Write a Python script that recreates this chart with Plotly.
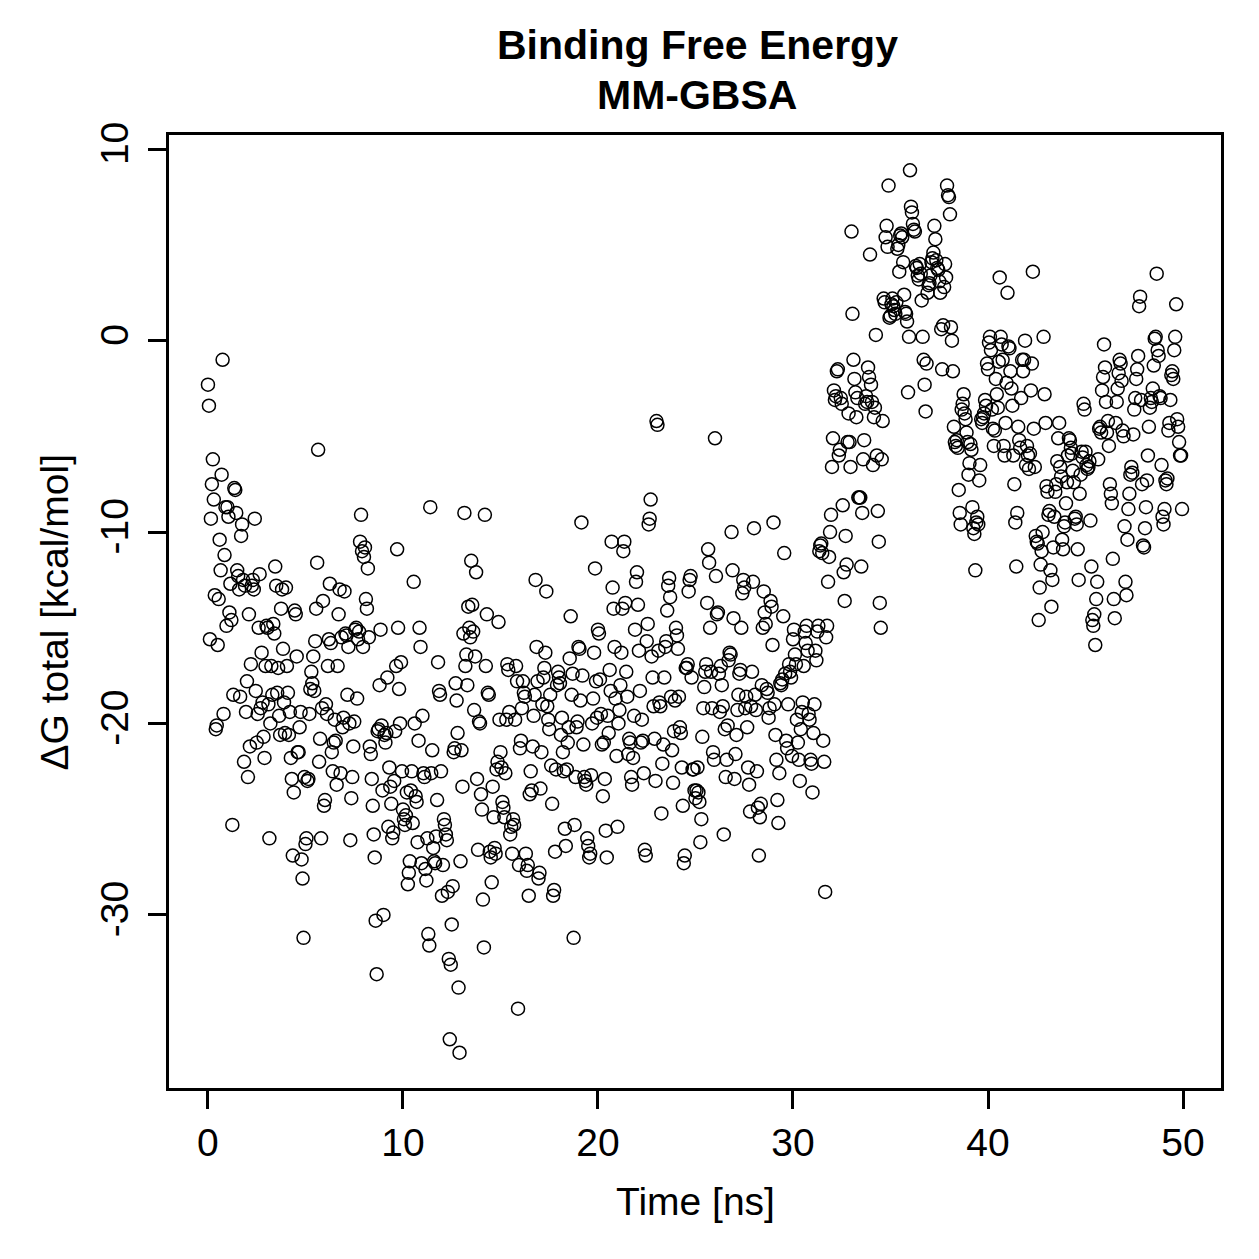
import numpy as np
import plotly.graph_objects as go

# Binding free energy (MM-GBSA), dG total in kcal/mol
# each segment covers 5 ns (one line per ns)
dg_00_05 = [
    -2.3, -3.4, -15.6, -9.3, -7.5, -6.2, -8.3, -13.3, -20.3, -20.1, -15.9, -13.5, -10.4, -12.0, -7.0, -1.0, -19.5, -11.2, -8.7, -14.9,
    -8.7, -9.2, -14.2, -12.7, -14.6, -25.3, -18.5, -7.7, -7.8, -9.0, -12.0, -12.3, -13.0, -18.6, -10.2, -9.6, -12.5, -22.0, -12.8, -19.4,
    -17.8, -22.8, -14.3, -21.2, -16.9, -12.8, -12.5, -13.0, -9.3, -18.3, -21.0, -19.5, -15.0, -12.2, -19.2, -16.3, -18.9, -20.7, -21.8, -17.0,
    -14.9, -15.0, -19.0, -26.0, -20.0, -17.0, -18.5, -14.8, -15.3, -11.8, -12.8, -18.4, -17.1, -19.6, -20.6, -14.0, -13.0, -16.1, -18.9, -20.5,
    -12.9, -17.0, -18.4, -20.6, -19.4, -21.8, -22.9, -26.9, -23.6, -14.1, -14.3, -16.5, -21.5, -21.5, -20.2, -19.4, -27.1, -28.1, -31.2, -22.8,
]
dg_05_10 = [
    -26.3, -26.0, -23.0, -22.9, -19.5, -18.2, -17.3, -17.9, -16.5, -18.3, -15.7, -14.0, -11.6, -5.7, -22.0, -20.8, -26.0, -19.2, -13.6, -24.3,
    -24.0, -19.0, -19.5, -17.0, -15.6, -12.7, -15.8, -21.5, -22.5, -21.0, -19.8, -20.9, -23.2, -17.0, -14.3, -13.0, -22.6, -15.5, -20.2, -19.7,
    -13.1, -15.3, -15.4, -18.5, -16.0, -20.0, -26.1, -23.9, -22.8, -21.2, -19.9, -15.1, -15.0, -18.7, -15.6, -15.2, -10.5, -9.1, -11.0, -16.0,
    -11.3, -10.8, -13.5, -14.0, -11.9, -15.5, -21.2, -21.6, -22.9, -24.3, -25.8, -27.0, -30.3, -33.1, -20.4, -20.3, -18.0, -15.1, -20.1, -23.5,
    -30.0, -20.6, -21.0, -20.5, -17.6, -25.4, -22.3, -23.3, -24.2, -26.0, -25.7, -23.0, -20.4, -17.0, -10.9, -15.0, -18.2, -20.0, -16.8, -22.5,
]
dg_10_15 = [
    -24.5, -25.0, -25.3, -24.8, -23.6, -28.4, -27.8, -27.2, -23.5, -22.5, -25.2, -12.6, -20.0, -23.8, -24.1, -26.2, -20.9, -15.0, -16.0, -27.3,
    -19.6, -22.6, -22.8, -27.6, -28.2, -26.0, -31.0, -31.6, -8.7, -22.6, -21.4, -26.5, -27.2, -27.3, -25.9, -24.0, -16.8, -18.3, -18.5, -22.5,
    -29.0, -27.4, -25.0, -25.3, -25.8, -26.1, -28.8, -32.3, -36.5, -32.6, -30.5, -28.5, -21.5, -21.3, -17.9, -18.8, -20.5, -33.8, -37.2, -27.2,
    -21.4, -23.3, -15.3, -9.0, -17.0, -16.4, -18.0, -13.9, -15.0, -15.5, -11.5, -13.8, -15.2, -19.3, -16.5, -12.1, -22.9, -26.6, -19.9, -20.0,
    -23.7, -24.5, -29.2, -31.7, -9.1, -17.0, -14.3, -18.4, -18.5, -26.7, -27.0, -28.3, -23.3, -24.9, -26.5, -26.8, -22.4, -22.0, -14.7, -19.8,
]
dg_15_20 = [
    -21.5, -22.3, -24.1, -24.4, -24.9, -22.6, -19.8, -16.9, -17.2, -19.4, -25.8, -25.4, -26.8, -25.0, -25.3, -19.8, -17.0, -17.8, -34.9, -27.4,
    -21.3, -20.9, -19.2, -17.8, -18.4, -18.6, -26.8, -27.7, -27.4, -29.0, -23.7, -22.5, -23.5, -21.2, -19.6, -18.5, -12.5, -16.0, -17.8, -28.1,
    -27.8, -23.4, -21.5, -19.0, -17.6, -17.1, -16.3, -13.1, -19.1, -19.8, -20.3, -18.5, -22.2, -24.2, -29.0, -28.7, -26.7, -22.4, -18.0, -17.3,
    -17.6, -17.9, -20.6, -19.7, -21.5, -22.5, -25.5, -26.4, -22.4, -21.0, -20.2, -16.6, -14.4, -18.5, -17.4, -31.2, -25.3, -22.8, -20.2, -19.9,
    -16.0, -16.1, -18.8, -9.5, -17.5, -21.1, -22.8, -23.0, -23.2, -26.0, -26.4, -27.0, -26.8, -22.7, -20.0, -18.7, -16.3, -11.9, -17.8, -19.7,
]
dg_20_25 = [
    -15.1, -15.3, -17.7, -19.5, -21.1, -23.8, -21.0, -22.9, -25.6, -27.0, -19.6, -20.5, -17.2, -18.3, -10.5, -12.9, -14.0, -16.0, -18.7, -21.7,
    -25.4, -20.0, -19.3, -18.0, -16.3, -14.0, -11.0, -10.5, -13.7, -17.3, -18.6, -21.6, -20.8, -21.0, -22.8, -23.2, -21.8, -19.6, -15.1, -12.6,
    -12.1, -13.8, -16.2, -18.3, -21.0, -19.8, -20.9, -22.6, -26.6, -26.9, -15.7, -14.8, -9.6, -9.3, -8.3, -16.5, -17.6, -19.1, -20.8, -23.0,
    -4.2, -4.4, -16.2, -18.9, -19.1, -24.7, -22.1, -21.1, -17.6, -16.0, -15.7, -14.1, -12.8, -12.4, -13.4, -18.6, -21.4, -23.1, -20.4, -18.8,
    -15.0, -15.4, -16.1, -18.6, -20.2, -20.5, -22.3, -24.3, -27.3, -26.9, -17.1, -17.1, -16.9, -13.1, -12.5, -12.3, -17.6, -22.4, -22.4, -23.5,
]
dg_25_30 = [
    -23.9, -23.5, -22.3, -23.6, -24.1, -26.2, -25.0, -20.7, -19.2, -18.1, -17.3, -16.9, -13.7, -10.9, -11.6, -15.0, -17.3, -19.2, -21.5, -21.9,
    -5.1, -12.3, -14.3, -14.2, -17.4, -19.4, -17.0, -18.0, -19.1, -25.8, -20.3, -22.8, -21.9, -20.1, -16.7, -16.3, -16.4, -10.0, -12.0, -14.5,
    -22.9, -21.6, -20.6, -19.3, -18.5, -17.4, -17.2, -15.0, -13.2, -12.5, -12.9, -19.2, -18.6, -20.2, -22.3, -23.2, -24.6, -19.1, -17.3, -12.6,
    -9.8, -18.5, -19.3, -22.5, -24.4, -26.9, -24.9, -24.2, -18.0, -15.0, -13.1, -14.2, -14.8, -18.2, -18.4, -19.7, -19.2, -13.6, -13.9, -15.9,
    -9.5, -19.0, -20.6, -21.9, -24.0, -25.2, -22.6, -17.9, -18.0, -17.7, -14.4, -11.1, -17.4, -20.9, -21.3, -19.0, -16.9, -17.3, -17.6, -21.7,
]
dg_30_35 = [
    -15.6, -15.1, -16.4, -16.9, -19.8, -21.0, -21.9, -23.0, -20.3, -19.4, -18.9, -17.0, -15.2, -15.8, -14.9, -16.2, -19.5, -19.8, -21.9, -22.1,
    -23.6, -20.5, -19.0, -16.2, -16.7, -15.2, -14.9, -11.0, -10.7, -10.6, -11.1, -20.9, -22.0, -28.8, -15.5, -14.9, -12.6, -11.3, -10.0, -9.1,
    -6.6, -5.1, -2.6, -3.1, -2.9, -1.6, -1.5, -6.0, -5.7, -3.0, -3.3, -8.6, -12.1, -13.6, -10.2, -11.7, -5.3, -3.8, -5.3, -6.6,
    5.7, 1.4, -1.0, -2.0, -2.7, -4.0, -3.0, -8.2, -8.2, -8.2, -11.8, -9.0, -6.2, -5.2, -3.3, -2.9, -3.2, -1.4, -1.9, 4.5,
    -2.3, -3.2, -6.5, -4.0, -3.5, 0.3, -6.0, -8.9, -10.5, -13.7, -15.0, -6.2, -4.2, 2.2, 2.0, 5.4, 6.0, 4.9, 8.1, 1.2,
]
dg_35_40 = [
    1.3, 1.9, 2.2, 1.8, 1.6, 1.4, 2.0, 4.8, 5.0, 3.6, 5.5, 5.6, 5.4, 4.1, 2.4, 1.5, 1.4, 1.0, -2.7, 0.2,
    8.9, 7.0, 6.7, 6.1, 5.8, 5.7, 3.9, 3.8, 3.4, 3.2, 4.0, 3.5, 2.1, 0.2, -1.0, -2.3, -3.7, -1.2, 2.5, 2.9,
    3.0, 3.4, 4.1, 4.3, 4.6, 6.0, 5.3, 4.2, 3.8, 3.7, 3.1, 2.5, 0.6, -1.5, 0.8, 2.8, 4.0, 3.3, 8.1, 7.6,
    7.5, 6.6, 0.7, 0.0, -1.6, -4.5, -5.3, -5.5, -5.2, -5.6, -7.8, -9.0, -9.6, -3.6, -3.3, -2.8, -3.8, -4.1, -4.8, -5.3,
    -7.0, -6.4, -5.4, -5.7, -8.7, -9.8, -10.1, -12.0, -9.5, -9.2, -9.6, -7.3, -6.5, -4.1, -4.3, -4.0, -3.8, -3.1, -3.4, -1.2,
]
dg_40_45 = [
    -1.5, -0.1, 0.2, -0.5, -3.6, -4.6, -5.5, -4.7, -2.0, -2.8, -3.5, -1.1, 3.3, 0.2, -0.2, -1.0, -5.5, -6.0, -4.3, -2.2,
    2.5, -0.3, -0.4, -1.6, -2.5, -3.4, -6.0, -7.5, -9.5, -11.8, -9.0, -4.5, -5.2, -5.6, -3.0, -1.0, -1.6, -1.0, 0.0, -6.5,
    -5.5, -6.0, -6.7, -5.9, -2.6, -1.2, 3.6, -4.6, -6.6, -10.2, -10.5, -10.6, -14.6, -12.9, -11.7, -11.0, -10.0, 0.2, -2.8, -4.3,
    -7.6, -7.9, -9.1, -8.9, -12.0, -13.9, -12.5, -10.8, -9.2, -7.9, -7.5, -6.3, -5.1, -4.3, -6.6, -7.1, -10.4, -10.9, -9.7, -9.5,
    -8.5, -7.4, -6.0, -5.1, -5.2, -5.6, -5.9, -6.8, -7.4, -9.3, -9.2, -9.6, -10.9, -12.5, -8.0, -7.0, -5.8, -6.1, -3.3, -3.6,
]
dg_45_50 = [
    -5.8, -6.5, -6.7, -6.6, -6.3, -9.4, -11.8, -14.6, -14.9, -14.3, -15.9, -13.5, -12.6, -6.2, -4.6, -4.5, -4.8, -2.6, -1.9, -0.2,
    -1.4, -3.2, -4.8, -4.2, -5.5, -7.5, -8.0, -8.5, -11.4, -13.5, -14.5, -4.3, -3.2, -2.5, -1.7, -1.0, -1.2, -2.1, -4.7, -5.0,
    -9.7, -12.6, -13.3, -10.4, -8.8, -8.0, -7.0, -6.6, -6.9, -4.9, -3.6, -3.0, -2.0, -1.5, -0.8, 1.8, 2.3, -3.1, -7.5, -10.7,
    -10.8, -9.8, -8.7, -7.3, -6.0, -4.5, -3.5, -3.0, -3.2, -2.5, -1.3, 0.1, 0.2, 3.5, -0.5, -0.8, -2.9, -3.0, -6.5, -9.2,
    -9.6, -8.8, -7.3, -7.5, -7.2, -4.7, -4.3, -3.1, -1.8, -1.6, -2.0, -0.5, 0.2, 1.9, -4.1, -4.5, -5.3, -6.0, -6.0, -8.8,
]

segments = [dg_00_05, dg_05_10, dg_10_15, dg_15_20, dg_20_25,
            dg_25_30, dg_30_35, dg_35_40, dg_40_45, dg_45_50]
segment_start_ns = [0, 5, 10, 15, 20, 25, 30, 35, 40, 45]
segment_len_ns = 5.0

x_ticks = [0, 10, 20, 30, 40, 50]
x_tick_labels = ["0", "10", "20", "30", "40", "50"]
y_ticks = [-30, -20, -10, 0, 10]
y_tick_labels = ["-30", "-20", "-10", "0", "10"]

time_ns = []
dg_total = []
for start, seg in zip(segment_start_ns, segments):
    step = segment_len_ns / len(seg)
    for k, v in enumerate(seg):
        time_ns.append(start + k * step)
        dg_total.append(v)

# R-style 4% axis extension
def r_range(vals):
    lo, hi = min(vals), max(vals)
    d = (hi - lo) * 0.04
    return [lo - d, hi + d]

FONT = "Liberation Sans, Arial, Helvetica, sans-serif"

fig = go.Figure()
fig.add_trace(go.Scatter(
    x=time_ns, y=dg_total, mode="markers",
    marker=dict(symbol="circle-open", size=13, color="black",
                line=dict(color="black", width=1.5)),
    showlegend=False, hoverinfo="x+y",
))

axis_common = dict(
    showgrid=False, zeroline=False, showline=True, mirror=True,
    linecolor="black", linewidth=3, ticks="outside", ticklen=18,
    tickwidth=3, tickcolor="black",
    tickfont=dict(family=FONT, size=39, color="black"),
)

fig.update_layout(
    width=1259, height=1259,
    margin=dict(l=169, r=38, t=135, b=171),
    paper_bgcolor="white", plot_bgcolor="white",
    xaxis=dict(range=r_range(time_ns), tickvals=x_ticks, ticktext=x_tick_labels,
               ticklabelstandoff=0, **axis_common),
    yaxis=dict(range=r_range(dg_total), tickvals=y_ticks, ticktext=y_tick_labels,
               tickangle=-90, ticklabelstandoff=4, **axis_common),
    annotations=[
        dict(text="<b>Binding Free Energy</b>", xref="paper", yref="paper",
             x=(697 - 169) / 1052, y=(1087 - 45) / 952, xanchor="center", yanchor="middle",
             showarrow=False, font=dict(family=FONT, size=41, color="black")),
        dict(text="<b>MM-GBSA</b>", xref="paper", yref="paper",
             x=(697 - 169) / 1052, y=(1087 - 95) / 952, xanchor="center", yanchor="middle",
             showarrow=False, font=dict(family=FONT, size=41, color="black")),
        dict(text="Time [ns]", xref="paper", yref="paper",
             x=(695 - 169) / 1052, y=(1087 - 1200) / 952,
             xanchor="center", yanchor="middle", showarrow=False,
             font=dict(family=FONT, size=39, color="black")),
        dict(text="ΔG total [kcal/mol]", xref="paper", yref="paper",
             x=(55 - 169) / 1052, y=(1087 - 612) / 952, textangle=-90,
             xanchor="center", yanchor="middle", showarrow=False,
             font=dict(family=FONT, size=39, color="black")),
    ],
)

fig.write_html("out.html")
